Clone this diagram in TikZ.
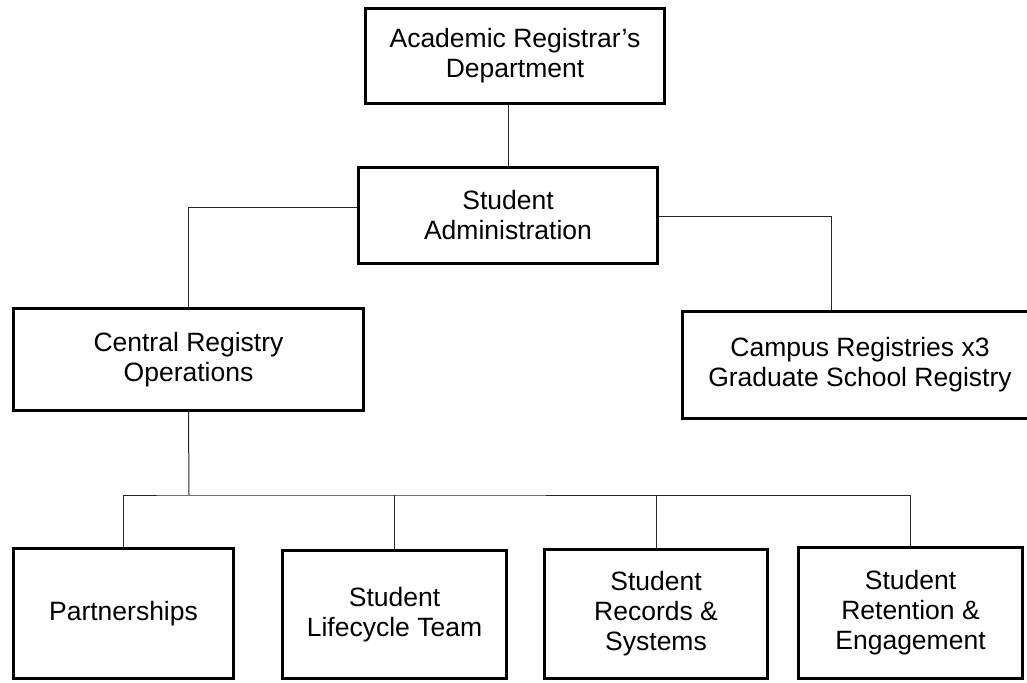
\documentclass[tikz,border=0pt]{standalone}
\usepackage{fontspec}
\setmainfont{Liberation Sans}

\tikzset{
  unitbox/.style={draw, line width=3pt, align=center, inner sep=0pt,
    font=\fontsize{26.5}{30}\selectfont},
  link/.style={line width=1pt, black!85}
}

\begin{document}
\begin{tikzpicture}[x=1pt,y=-1pt]
    \useasboundingbox (0,0) rectangle (1027,682);

    % upper levels
    \node[unitbox, minimum width=299pt, minimum height=95pt] (registrar) at (515,56) {Academic Registrar’s\\Department};
    \node[unitbox, minimum width=299pt, minimum height=96pt] (admin) at (508,215.5) {Student\\Administration};
    \node[unitbox, minimum width=350pt, minimum height=102pt] (central) at (188.5,359.5) {Central Registry\\Operations};
    \node[unitbox, minimum width=355pt, minimum height=107pt] (campus) at (860,365) {Campus Registries x3\\Graduate School Registry};

    % teams
    \node[unitbox, minimum width=220pt, minimum height=130pt] (partner) at (123.5,613.5) {Partnerships};
    \node[unitbox, minimum width=224pt, minimum height=128pt] (lifecycle) at (394.5,614.5) {Student\\Lifecycle Team};
    \node[unitbox, minimum width=223pt, minimum height=129pt] (records) at (656,614) {Student\\Records \&\\Systems};
    \node[unitbox, minimum width=224pt, minimum height=131pt] (retention) at (910.5,613) {Student\\Retention \&\\Engagement};

    % connectors
    \draw[link] (admin.north) -- (admin.north |- registrar.south);
    \draw[link] ([yshift=8.5pt]admin.west) -| (central.north);
    \draw[link] ([yshift=-0.5pt]admin.east) -| ([xshift=-29pt]campus.north);

    \coordinate (bus) at (189,495);
    \draw[link] (central.south) -- (bus);
    \draw[link] (partner.north) |- (bus) -| (retention.north);
    \draw[link] (lifecycle.north) -- (lifecycle.north |- bus);
    \draw[link] (records.north) -- (records.north |- bus);
\end{tikzpicture}
\end{document}
